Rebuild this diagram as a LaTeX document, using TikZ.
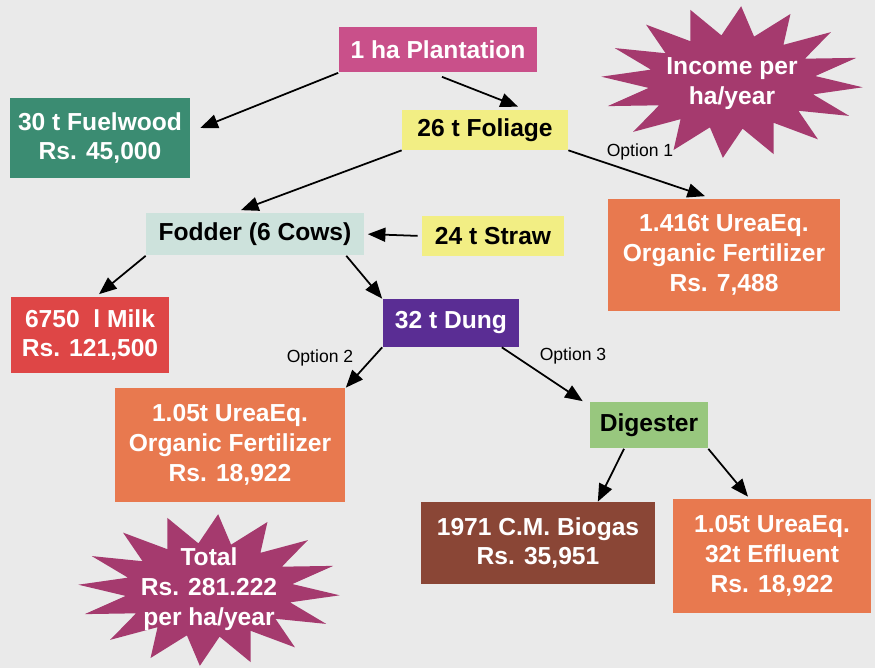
\documentclass[tikz,border=0pt]{standalone}
\usepackage{fontspec}
\setmainfont{Liberation Sans}
\usepackage{xcolor}
\usepackage{tikz}
\usetikzlibrary{calc,arrows.meta}
\definecolor{bg}{HTML}{EAEAEA}
\definecolor{plantc}{HTML}{C9508A}
\definecolor{woodc}{HTML}{3B8C72}
\definecolor{yell}{HTML}{F2EE84}
\definecolor{fodc}{HTML}{CDE2DC}
\definecolor{orng}{HTML}{E8794F}
\definecolor{milkc}{HTML}{DE4646}
\definecolor{dungc}{HTML}{5A2D94}
\definecolor{digc}{HTML}{98C77E}
\definecolor{gasc}{HTML}{8A4636}
\definecolor{starc}{HTML}{A53A6E}
\tikzset{
  box/.style={rectangle, inner sep=0pt, align=center, text=white,
    font=\bfseries\fontsize{14}{17}\selectfont},
  boxd/.style={box, text=black},
  arr/.style={draw=black, line width=1pt, -{Triangle[length=10pt,width=8pt]}},
  opt/.style={text=black, font=\fontsize{10}{12}\selectfont},
  startext/.style={box, inner sep=0pt},
}
\newcommand{\burst}[3]{%
  \fill[#3] plot[samples at={0,...,31}, variable=\k]
    ({#1+(isodd(\k) ? 84 : 131)*cos(\k*11.25+4)},
     {#2+(isodd(\k) ? 47 : 76)*sin(\k*11.25+4)}) -- cycle;}

\begin{document}
\begin{tikzpicture}[x=0.02cm,y=-0.02cm]
  \fill[bg] (0,0) rectangle (875,668);
  \useasboundingbox (0,0) rectangle (875,668);

  % stars
  \burst{732}{82}{starc}
  \burst{209}{590}{starc}
  \node[startext] (income) at (732,84) {Income per\\ha/year};
  \node[startext] (total) at (209,589) {Total\\Rs. 281.222\\per ha/year};

  % boxes
  \node[box, fill=plantc, minimum width=3.98cm, minimum height=0.9cm] (plant) at (438,50) {1 ha Plantation};
  \node[box, fill=woodc, minimum width=3.6cm, minimum height=1.6cm] (fuel) at (100,138) {30 t Fuelwood\\Rs. 45,000};
  \node[boxd, fill=yell, minimum width=3.32cm, minimum height=0.8cm] (foliage) at (485,130) {26 t Foliage};
  \node[boxd, fill=fodc, minimum width=4.36cm, minimum height=0.86cm] (fodder) at (255,234) {Fodder (6 Cows)};
  \node[boxd, fill=yell, minimum width=2.86cm, minimum height=0.8cm] (straw) at (493,236) {24 t Straw};
  \node[box, fill=orng, minimum width=4.64cm, minimum height=2.26cm] (urea1) at (724,255) {1.416t UreaEq.\\Organic Fertilizer\\Rs. 7,488};
  \node[box, fill=milkc, minimum width=3.18cm, minimum height=1.54cm] (milk) at (90,335) {6750\ \ l Milk\\Rs. 121,500};
  \node[box, fill=dungc, minimum width=2.74cm, minimum height=0.96cm] (dung) at (451,323) {32 t Dung};
  \node[box, fill=orng, minimum width=4.62cm, minimum height=2.28cm] (fert2) at (230,445) {1.05t UreaEq.\\Organic Fertilizer\\Rs. 18,922};
  \node[boxd, fill=digc, minimum width=2.36cm, minimum height=0.94cm] (digester) at (649,425) {Digester};
  \node[box, fill=gasc, minimum width=4.7cm, minimum height=1.64cm] (biogas) at (538,543) {1971 C.M. Biogas\\Rs. 35,951};
  \node[box, fill=orng, minimum width=3.96cm, minimum height=2.28cm] (effluent) at (772,556) {1.05t UreaEq.\\32t Effluent\\Rs. 18,922};

  % option labels
  \node[opt] (opt1) at (640,152) {Option 1};
  \node[opt] (opt2) at (320,358) {Option 2};
  \node[opt] (opt3) at (573,356) {Option 3};

  % arrows
  \draw[arr] (plant.south west) -- ($(fuel.east)+(10,-10)$);
  \draw[arr] ($(plant.south)+(4,4)$) -- ($(foliage.north)+(33,-3)$);
  \draw[arr] (foliage.south west) -- ($(fodder.north)+(-14,-2)$);
  \draw[arr] (foliage.south east) -- ($(urea1.north)+(-19,-2)$);
  \draw[arr, shorten <=2pt, shorten >=2pt] (straw.west) -- (fodder.east);
  \draw[arr] (fodder.south west) -- ($(milk.north)+(9,-2)$);
  \draw[arr] ($(fodder.south east)+(-18,0)$) -- (dung.north west);
  \draw[arr] (dung.south west) -- (fert2.north east);
  \draw[arr] ($(dung.south east)+(-18,0)$) -- ($(digester.north west)+(-7,0)$);
  \draw[arr] ($(digester.south)+(-25,0)$) -- ($(biogas.north east)+(-58,0)$);
  \draw[arr] (digester.south east) -- ($(effluent.north)+(-24,-2)$);
\end{tikzpicture}
\end{document}
